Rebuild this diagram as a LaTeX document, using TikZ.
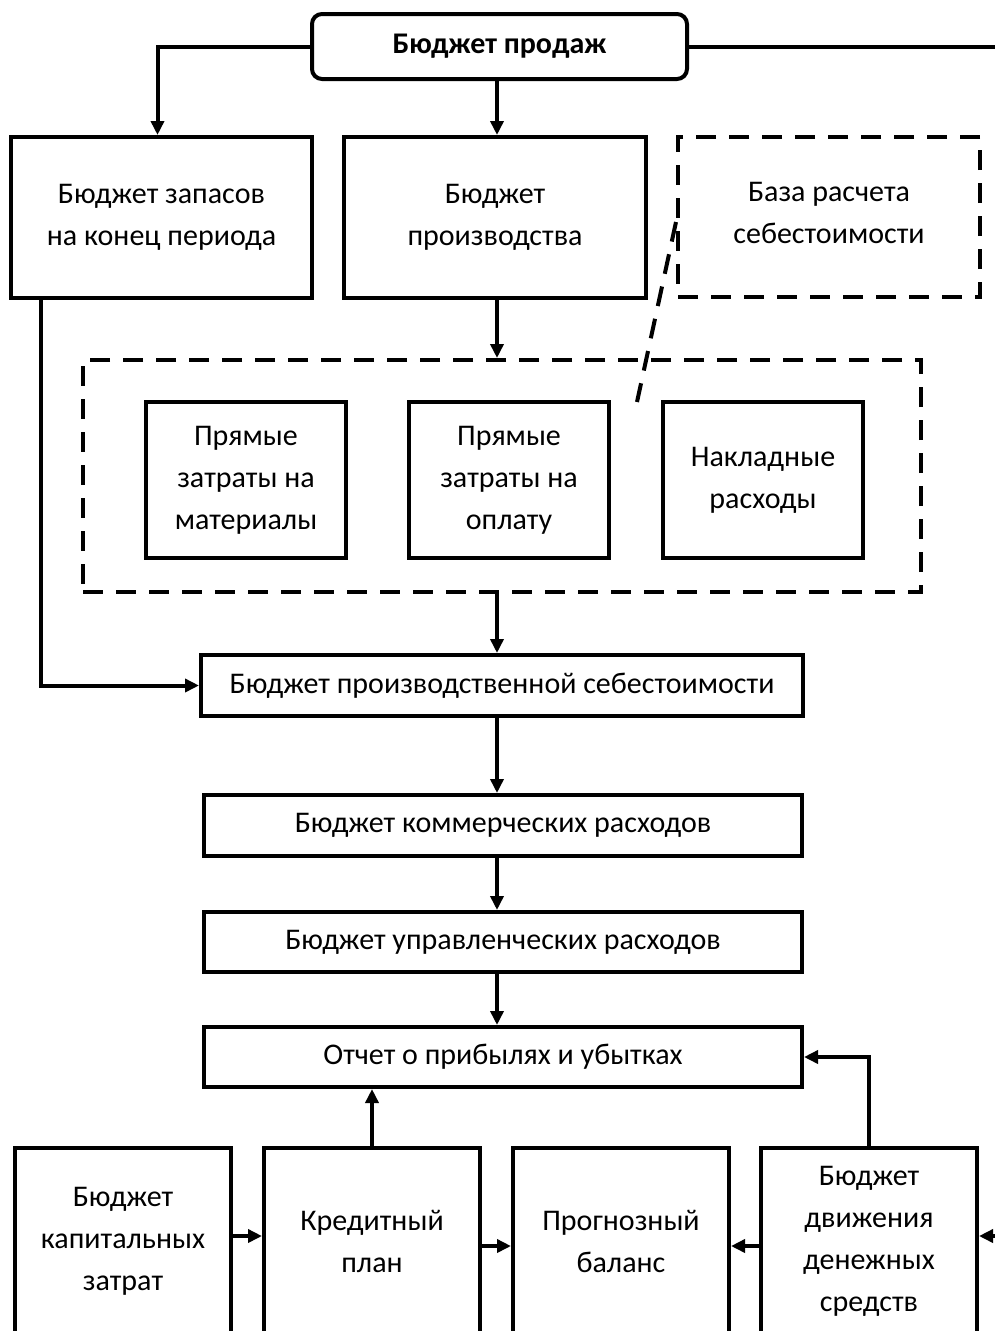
\documentclass[tikz,border=0pt]{standalone}
\usepackage{fontspec}
\setmainfont{Carlito}
\usetikzlibrary{arrows.meta}
\begin{document}
\begin{tikzpicture}[x=1pt,y=-1pt,
  every node/.style={font=\fontsize{30}{42}\selectfont, align=center, inner sep=0pt},
  box/.style={draw, line width=4pt, minimum width=#1},
  dbox/.style={draw, line width=4pt, dash pattern=on 20pt off 13pt, minimum width=#1},
  conn/.style={line width=4pt},
  arr/.style={line width=4pt, -{Triangle[length=14pt,width=13pt]}},
  dline/.style={line width=4pt, dash pattern=on 20pt off 13pt}]
\useasboundingbox (0,0) rectangle (995,1331);
% top
\node[box=375, minimum height=65, rounded corners=10pt, font=\fontsize{30}{42}\selectfont\bfseries] (sales) at (499.5,46.5) {Бюджет продаж};
\node[box=301, minimum height=161] (inv) at (161.5,217.5) {Бюджет запасов\\на конец периода};
\node[box=302, minimum height=161] (prod) at (495,217.5) {Бюджет\\производства};
\node[dbox=302, minimum height=160] (base) at (829,217) {};
\node (basetxt) at (829,213) {База расчета\\себестоимости};
% group
\node[dbox=838, minimum height=232] (group) at (502,476) {};
\node[box=200, minimum height=156] (mat) at (246,480) {Прямые\\затраты на\\материалы};
\node[box=200, minimum height=156] (lab) at (509,480) {Прямые\\затраты на\\оплату};
\node[box=200, minimum height=156] (ovh) at (763,480) {Накладные\\расходы};
% middle chain
\node[box=602, minimum height=61] (cost) at (502,685.5) {Бюджет производственной себестоимости};
\node[box=598, minimum height=61] (comm) at (503,825.5) {Бюджет коммерческих расходов};
\node[box=598, minimum height=60] (adm) at (503,942) {Бюджет управленческих расходов};
\node[box=598, minimum height=60] (pl) at (503,1057) {Отчет о прибылях и убытках};
% bottom row
\node[box=216, minimum height=186] (cap) at (123,1241) {Бюджет\\капитальных\\затрат};
\node[box=216, minimum height=186] (cred) at (372,1241) {Кредитный\\план};
\node[box=216, minimum height=186] (bal) at (621,1241) {Прогнозный\\баланс};
\node[box=216, minimum height=186] (cash) at (869,1241) {Бюджет\\движения\\денежных\\средств};
% free ends
\coordinate (rtop) at (1000,46.5);
\coordinate (rbot) at (1000,1236);
\coordinate (dashend) at (637,402);
\coordinate (spine) at (497,0);
% connectors
\draw[arr] (sales.west) -| ([xshift=-4pt]inv.north);
\draw[conn] (sales.east) -- (rtop);
\draw[arr] (spine |- sales.south) -- (spine |- prod.north);
\draw[arr] (spine |- prod.south) -- (spine |- group.north);
\draw[dline] ([yshift=-5pt]base.west) -- (dashend);
\draw[arr] (spine |- group.south) -- (spine |- cost.north);
\draw[arr] ([xshift=-120.5pt]inv.south) |- (cost.west);
\draw[arr] (spine |- cost.south) -- (spine |- comm.north);
\draw[arr] (spine |- comm.south) -- (spine |- adm.north);
\draw[arr] (spine |- adm.south) -- (spine |- pl.north);
\draw[arr] ([yshift=5pt]cap.east) -- ([yshift=5pt]cred.west);
\draw[arr] (cred.north) -- (cred.north |- pl.south);
\draw[arr] ([yshift=-5pt]cred.east) -- ([yshift=-5pt]bal.west);
\draw[arr] ([yshift=-5pt]cash.west) -- ([yshift=-5pt]bal.east);
\draw[arr] (cash.north) |- (pl.east);
\draw[arr] (rbot) -- (cash.east |- rbot);
\end{tikzpicture}
\end{document}
